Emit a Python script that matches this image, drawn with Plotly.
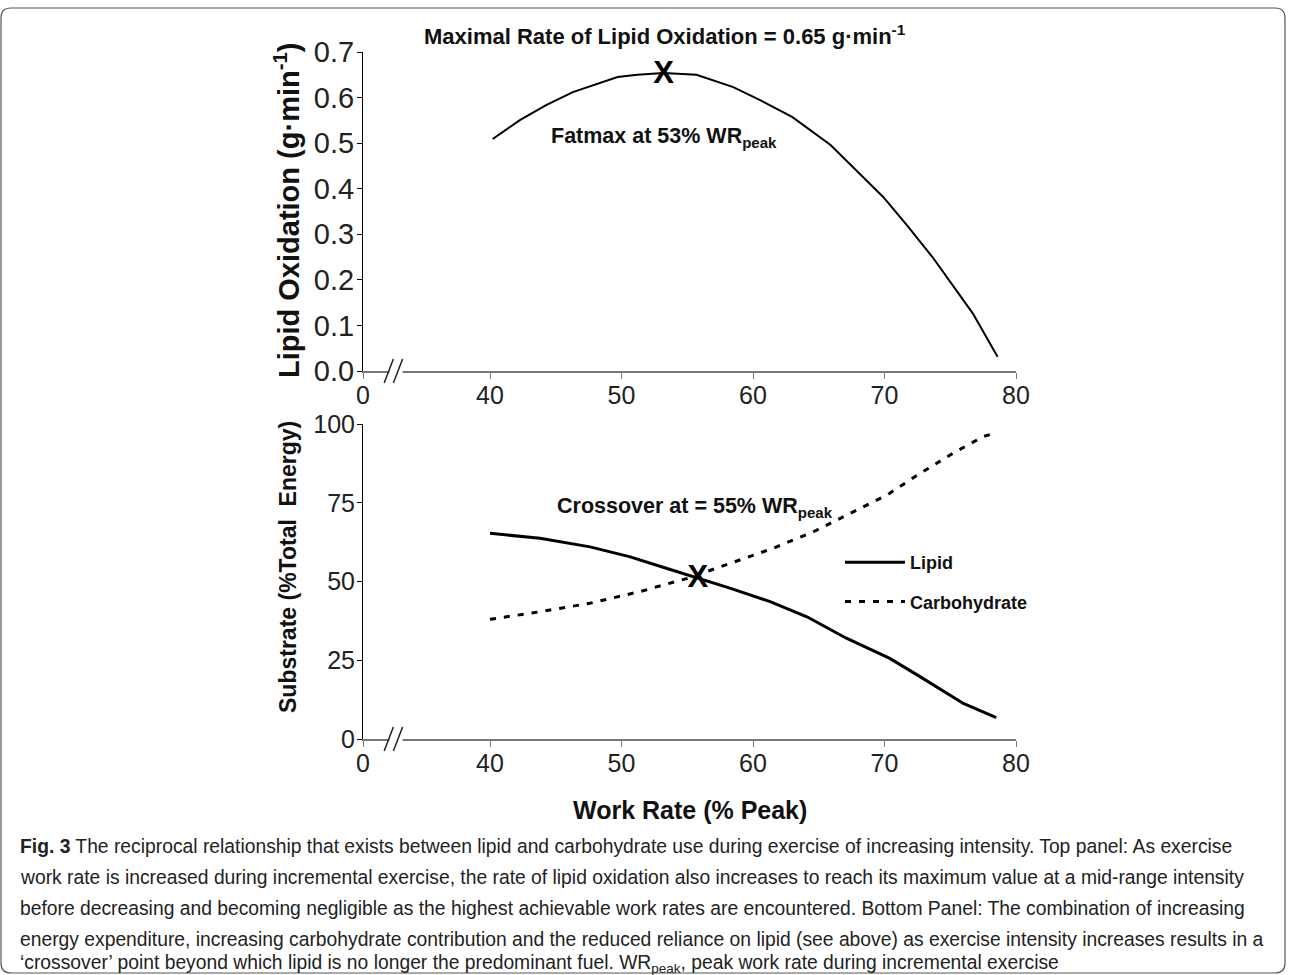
import plotly.graph_objects as go

# ---------------- data ----------------
top_x = [40.2, 42.3, 44.3, 46.3, 49.7, 51.2, 53.2, 55.7, 58.5, 60.5, 63.0, 65.9, 69.9, 71.7, 73.7, 76.7, 78.6]
top_lipid = [0.509, 0.551, 0.584, 0.612, 0.645, 0.650, 0.654, 0.650, 0.623, 0.595, 0.557, 0.496, 0.382, 0.320, 0.248, 0.127, 0.031]

lipid_x = [40.0, 43.8, 47.6, 50.6, 53.4, 55.5, 58.3, 61.3, 64.1, 67.1, 70.4, 72.7, 76.0, 78.5]
lipid_pct = [65.3, 63.7, 61.0, 57.9, 54.2, 51.5, 47.8, 43.6, 38.8, 32.0, 25.6, 19.8, 11.3, 6.8]

carb_x = [40.0, 43.8, 47.6, 51.4, 55.0, 58.3, 61.5, 64.6, 67.1, 70.2, 72.7, 75.2, 77.5, 78.3]
carb_pct = [38.0, 40.4, 43.1, 46.8, 51.0, 55.8, 60.5, 65.8, 71.1, 77.5, 84.3, 90.7, 96.0, 97.0]

fatmax_point = (53.2, 0.65)
crossover_point = (55.8, 50.8)

x_tick_vals = [40, 50, 60, 70, 80]
x_tick_text = ["40", "50", "60", "70", "80"]
x_zero_pos = 30.34          # where the broken axis shows "0"
x_break_pos = [32.3, 33.0]  # the "//" break marks

top_y_ticks = [0.0, 0.1, 0.2, 0.3, 0.4, 0.5, 0.6, 0.7]
bot_y_ticks = [0, 25, 50, 75, 100]

W, H = 1290, 975
def px(x):
    return x / W
def py(y):
    return 1 - y / H

FONT = "Liberation Sans, Arial, sans-serif"

fig = go.Figure()

fig.add_trace(go.Scatter(x=top_x, y=top_lipid, mode="lines", line=dict(color="black", width=2),
                         xaxis="x", yaxis="y", showlegend=False))
fig.add_trace(go.Scatter(x=[fatmax_point[0]], y=[fatmax_point[1]], mode="text", text=["<b>X</b>"],
                         textfont=dict(size=31, color="black", family=FONT),
                         xaxis="x", yaxis="y", showlegend=False))

fig.add_trace(go.Scatter(x=lipid_x, y=lipid_pct, mode="lines", name="<b>Lipid</b>",
                         line=dict(color="black", width=3), legendgroup="a",
                         xaxis="x2", yaxis="y2"))
fig.add_trace(go.Scatter(x=carb_x, y=carb_pct, mode="lines", name="<b>Carbohydrate</b>",
                         line=dict(color="black", width=3, dash="6px,8px"), legendgroup="b",
                         xaxis="x2", yaxis="y2"))
fig.add_trace(go.Scatter(x=[crossover_point[0]], y=[crossover_point[1]], mode="text", text=["<b>X</b>"],
                         textfont=dict(size=31, color="black", family=FONT),
                         xaxis="x2", yaxis="y2", showlegend=False))

xdom = [px(363), px(1016)]
xaxis_common = dict(
    range=[x_zero_pos, 80],
    tickvals=[x_zero_pos] + x_tick_vals,
    ticktext=["0"] + x_tick_text,
    showgrid=False, zeroline=False, automargin=False,
    showline=True, linecolor="#777", linewidth=2,
    ticks="outside", ticklen=6, tickcolor="#777", tickwidth=1,
    tickfont=dict(family=FONT, size=25, color="#222"),
    ticklabelstandoff=-5,
    domain=xdom,
)
yaxis_common = dict(
    showgrid=False, zeroline=False, automargin=False,
    showline=True, linecolor="black", linewidth=1,
    ticks="outside", ticklen=5, tickcolor="black",
    ticklabelstandoff=-3,
)

fig.update_layout(
    width=W, height=H,
    margin=dict(l=0, r=0, t=0, b=0, pad=0, autoexpand=False),
    paper_bgcolor="white", plot_bgcolor="white",
    xaxis=dict(**xaxis_common, anchor="y"),
    yaxis=dict(**yaxis_common, range=[0, 0.7], tickvals=top_y_ticks, tickformat=".1f",
               tickfont=dict(family=FONT, size=29, color="#222"),
               domain=[py(371), py(52)], anchor="x"),
    xaxis2=dict(**xaxis_common, anchor="y2"),
    yaxis2=dict(**yaxis_common, range=[0, 100], tickvals=bot_y_ticks,
                tickfont=dict(family=FONT, size=25, color="#222"),
                domain=[py(739), py(424)], anchor="x2"),
    legend=dict(x=px(840), y=py(544), xanchor="left", yanchor="top",
                font=dict(family=FONT, size=18, color="#111"),
                traceorder="grouped", tracegroupgap=13, itemwidth=60,
                bgcolor="rgba(0,0,0,0)"),
    showlegend=True,
)

# broken-axis marks
shapes = []
for xr, yr in (("x", "y domain"), ("x2", "y2 domain")):
    dom_h = 319 if yr == "y domain" else 315
    d = 12 / dom_h
    shapes.append(dict(type="rect", xref=xr, yref=yr, x0=x_break_pos[0] + 0.05, x1=x_break_pos[1] + 0.35,
                       y0=-0.01, y1=0.01, fillcolor="white", line=dict(width=0)))
    for xb in x_break_pos:
        shapes.append(dict(type="line", xref=xr, yref=yr, x0=xb - 0.35, x1=xb + 0.35,
                           y0=-d, y1=d, line=dict(color="#222", width=1.5)))

# rounded frame
x0, x1, y0, y1 = px(1), px(1285), py(8), py(973)
rx, ry = 10 / W, 10 / H
frame_path = (f"M {x0},{y1 + ry} L {x0},{y0 - ry} Q {x0},{y0} {x0 + rx},{y0} "
              f"L {x1 - rx},{y0} Q {x1},{y0} {x1},{y0 - ry} L {x1},{y1 + ry} "
              f"Q {x1},{y1} {x1 - rx},{y1} L {x0 + rx},{y1} Q {x0},{y1} {x0},{y1 + ry}")
shapes.append(dict(type="path", xref="paper", yref="paper", path=frame_path,
                   line=dict(color="#555", width=1.2)))
fig.update_layout(shapes=shapes)

ann = []
ann.append(dict(x=px(665), y=py(35), xref="paper", yref="paper", showarrow=False,
                text="<b>Maximal Rate of Lipid Oxidation = 0.65 g·min<sup>-1</sup></b>",
                font=dict(family=FONT, size=22, color="#111"), xanchor="center", yanchor="middle"))
ann.append(dict(x=px(549), y=py(137), xref="paper", yref="paper", showarrow=False,
                text="<b>Fatmax at 53% WR<sub>peak</sub></b>",
                font=dict(family=FONT, size=21.5, color="#111"), xanchor="left", yanchor="middle"))
ann.append(dict(x=px(555), y=py(507), xref="paper", yref="paper", showarrow=False,
                text="<b>Crossover at = 55% WR<sub>peak</sub></b>",
                font=dict(family=FONT, size=21.5, color="#111"), xanchor="left", yanchor="middle"))
ann.append(dict(x=px(287), y=py(211), xref="paper", yref="paper", showarrow=False, textangle=-90,
                text="<b>Lipid Oxidation (g·min<sup>-1</sup>)</b>",
                font=dict(family=FONT, size=29, color="#111"), xanchor="center", yanchor="middle"))
ann.append(dict(x=px(288), y=py(567), xref="paper", yref="paper", showarrow=False, textangle=-90,
                text="<b>Substrate (%Total  Energy)</b>",
                font=dict(family=FONT, size=23, color="#111"), xanchor="center", yanchor="middle"))
ann.append(dict(x=px(690), y=py(810), xref="paper", yref="paper", showarrow=False,
                text="<b>Work Rate (% Peak)</b>",
                font=dict(family=FONT, size=25, color="#111"), xanchor="center", yanchor="middle"))

caption_lines = [
    "<b>Fig. 3</b> The reciprocal relationship that exists between lipid and carbohydrate use during exercise of increasing intensity. Top panel: As exercise",
    "work rate is increased during incremental exercise, the rate of lipid oxidation also increases to reach its maximum value at a mid-range intensity",
    "before decreasing and becoming negligible as the highest achievable work rates are encountered. Bottom Panel: The combination of increasing",
    "energy expenditure, increasing carbohydrate contribution and the reduced reliance on lipid (see above) as exercise intensity increases results in a",
    "‘crossover’ point beyond which lipid is no longer the predominant fuel. WR<sub>peak</sub>, peak work rate during incremental exercise",
]
caption_y = [846, 877, 908, 939, 964]
for line, yy in zip(caption_lines, caption_y):
    ann.append(dict(x=px(18), y=py(yy), xref="paper", yref="paper", showarrow=False,
                    text=line, align="left",
                    font=dict(family=FONT, size=19.3, color="#222"), xanchor="left", yanchor="middle"))

fig.update_layout(annotations=ann)

fig.write_html("out.html", config={"displayModeBar": False},
               post_script="document.body.style.margin='0';document.body.style.padding='0';")
